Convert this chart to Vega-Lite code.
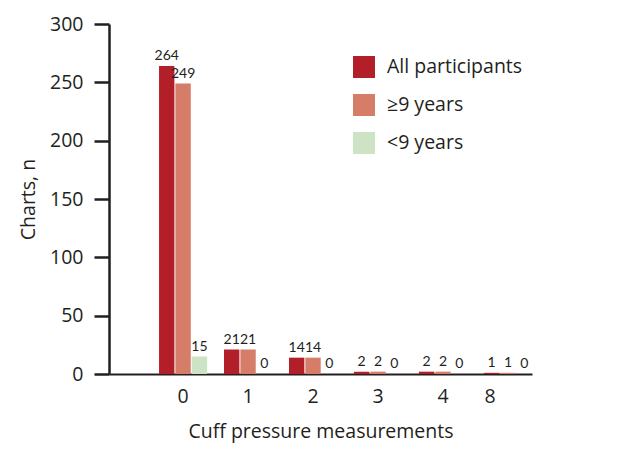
{
  "$schema": "https://vega.github.io/schema/vega-lite/v6.json",
  "width": 423,
  "height": 350,
  "autosize": {"type": "none"},
  "padding": {"left": 109, "top": 24, "right": 92, "bottom": 90},
  "background": "white",
  "config": {
    "view": {"stroke": null},
    "font": "Open Sans",
    "axis": {"labelFont": "Open Sans", "titleFont": "Open Sans", "labelColor": "#231f20", "titleColor": "#231f20", "grid": false, "titleFontWeight": "normal"}
  },
  "data": {
    "values": [
      {"m": "0", "g": "All participants", "n": 264},
      {"m": "0", "g": "≥9 years", "n": 249},
      {"m": "0", "g": "<9 years", "n": 15},
      {"m": "1", "g": "All participants", "n": 21},
      {"m": "1", "g": "≥9 years", "n": 21},
      {"m": "1", "g": "<9 years", "n": 0},
      {"m": "2", "g": "All participants", "n": 14},
      {"m": "2", "g": "≥9 years", "n": 14},
      {"m": "2", "g": "<9 years", "n": 0},
      {"m": "3", "g": "All participants", "n": 2},
      {"m": "3", "g": "≥9 years", "n": 2},
      {"m": "3", "g": "<9 years", "n": 0},
      {"m": "4", "g": "All participants", "n": 2},
      {"m": "4", "g": "≥9 years", "n": 2},
      {"m": "4", "g": "<9 years", "n": 0},
      {"m": "8", "g": "All participants", "n": 1},
      {"m": "8", "g": "≥9 years", "n": 1},
      {"m": "8", "g": "<9 years", "n": 0}
    ]
  },
  "encoding": {
    "x": {
      "field": "m", "type": "nominal", "sort": ["0", "1", "2", "3", "4", "8"],
      "scale": {"paddingInner": 0.26, "paddingOuter": 0.385, "align": 1},
      "axis": {
        "title": "Cuff pressure measurements", "labelAngle": 0, "ticks": false,
        "labelFontSize": 19.5, "labelPadding": 13, "titleFontSize": 19.5, "titlePadding": 17,
        "domainColor": "#231f20", "domainWidth": 2,
        "labelOffset": {"condition": {"test": "datum.value == '8'", "value": -18}, "value": 0}
      }
    },
    "xOffset": {"field": "g", "type": "nominal", "sort": ["All participants", "≥9 years", "<9 years"], "scale": {"paddingInner": 0.06}},
    "y": {
      "field": "n", "type": "quantitative",
      "scale": {"domain": [0, 300]},
      "axis": {
        "title": "Charts, n", "values": [0, 50, 100, 150, 200, 250, 300],
        "labelFontSize": 19.5, "labelPadding": 11, "tickSize": 15, "tickWidth": 2.5, "tickColor": "#231f20",
        "domainColor": "#231f20", "domainWidth": 2.5, "titleFontSize": 19.5, "titlePadding": 11
      }
    }
  },
  "layer": [
    {
      "mark": {"type": "bar"},
      "encoding": {
        "color": {
          "field": "g", "type": "nominal",
          "scale": {"domain": ["All participants", "≥9 years", "<9 years"], "range": ["#b31f29", "#d57d68", "#cce4c4"]},
          "legend": {
            "title": null, "orient": "none", "legendX": 244, "legendY": 32,
            "symbolType": "square", "symbolSize": 484, "symbolStrokeWidth": 0, "symbolOpacity": 1,
            "labelFontSize": 19.5, "labelFont": "Open Sans", "labelColor": "#231f20", "rowPadding": 16, "labelOffset": 12
          }
        }
      }
    },
    {
      "mark": {"type": "text", "baseline": "bottom", "dy": -3, "fontSize": 14, "font": "Lato", "color": "#231f20"},
      "encoding": {"text": {"field": "n", "type": "quantitative"}}
    }
  ]
}
